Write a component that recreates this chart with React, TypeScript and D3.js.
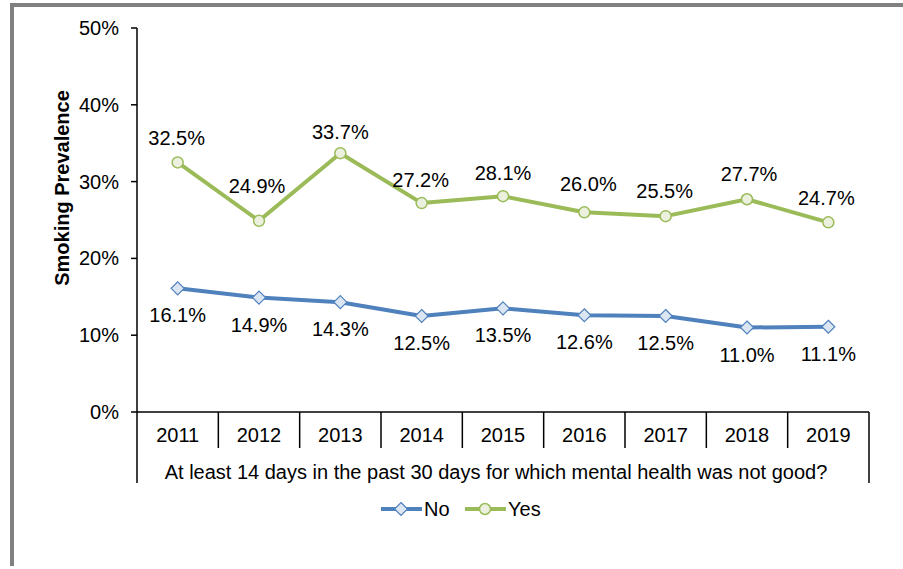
import React from "react";
import * as d3 from "d3";

const years = ["2011", "2012", "2013", "2014", "2015", "2016", "2017", "2018", "2019"];
const noValues = [16.1, 14.9, 14.3, 12.5, 13.5, 12.6, 12.5, 11.0, 11.1];
const yesValues = [32.5, 24.9, 33.7, 27.2, 28.1, 26.0, 25.5, 27.7, 24.7];
const yTicks = [0, 10, 20, 30, 40, 50];
const seriesNames = ["No", "Yes"];

// label placement (layout, not data)
const yesLabelDy = [-24, -35, -21, -23, -23, -28, -25, -25, -24];
const yesLabelDx = [-1, -2, 0, -1, 0, 4, -1, 2, -2];
const noLabelDy = 27;

const W = 903;
const H = 569;
const left = 137;
const right = 869;
const top = 28;
const bottom = 412;
const FONT = "'Liberation Sans', Arial, sans-serif";
const FS = 20;
const BLUE = "#4F81BD";
const GREEN = "#9BBB59";

export default function App() {
  const x = d3.scaleBand<string>().domain(years).range([left, right]).padding(0);
  const y = d3.scaleLinear().domain([0, 50]).range([bottom, top]);
  const cx = (d: string) => (x(d) as number) + x.bandwidth() / 2;
  const line = d3
    .line<number>()
    .x((_, i) => cx(years[i]))
    .y((v) => y(v));

  const diamond = (px: number, py: number, r: number) =>
    `M${px},${py - r}L${px + r},${py}L${px},${py + r}L${px - r},${py}Z`;

  return (
    <svg
      width={W}
      height={H}
      style={{ position: "absolute", left: 0, top: 0, display: "block" }}
      fontFamily={FONT}
    >
      <rect x={0} y={0} width={W} height={H} fill="#fff" />
      {/* frame */}
      <line x1={10} y1={5} x2={W} y2={5} stroke="#808080" strokeWidth={4} />
      <line x1={12} y1={3} x2={12} y2={566} stroke="#808080" strokeWidth={4} />

      {/* y axis */}
      <line x1={left} y1={top} x2={left} y2={bottom} stroke="#000" strokeWidth={1.5} />
      {yTicks.map((t) => (
        <g key={t}>
          <line x1={left - 6} x2={left} y1={y(t)} y2={y(t)} stroke="#000" strokeWidth={1.5} />
          <text x={left - 18} y={y(t)} dy="0.35em" textAnchor="end" fontSize={FS} fill="#000">
            {t}%
          </text>
        </g>
      ))}
      <text
        transform={`translate(69,188) rotate(-90)`}
        textAnchor="middle"
        fontSize={FS}
        fontWeight="bold"
        fill="#000"
      >
        Smoking Prevalence
      </text>

      {/* x axis */}
      <line x1={left} x2={right} y1={bottom} y2={bottom} stroke="#000" strokeWidth={1.5} />
      {years.map((yr, i) => (
        <g key={yr}>
          {i > 0 && (
            <line
              x1={x(yr) as number}
              x2={x(yr) as number}
              y1={bottom}
              y2={448}
              stroke="#000"
              strokeWidth={1.5}
            />
          )}
          <text x={cx(yr)} y={435} dy="0.35em" textAnchor="middle" fontSize={FS} fill="#000">
            {yr}
          </text>
        </g>
      ))}
      <line x1={left} x2={left} y1={bottom} y2={483} stroke="#000" strokeWidth={1.5} />
      <line x1={right} x2={right} y1={bottom} y2={483} stroke="#000" strokeWidth={1.5} />
      <text x={(left + right) / 2 - 7} y={472} dy="0.35em" textAnchor="middle" fontSize={FS} fill="#000">
        At least 14 days in the past 30 days for which mental health was not good?
      </text>

      {/* lines */}
      <path d={line(noValues) || ""} fill="none" stroke={BLUE} strokeWidth={4} strokeLinejoin="round" />
      <path d={line(yesValues) || ""} fill="none" stroke={GREEN} strokeWidth={4} strokeLinejoin="round" />
      {noValues.map((v, i) => (
        <g key={"n" + i}>
          <path d={diamond(cx(years[i]), y(v), 6.5)} fill="#DCE6F2" stroke={BLUE} strokeWidth={1.2} />
          <text x={cx(years[i])} y={y(v) + noLabelDy} dy="0.35em" textAnchor="middle" fontSize={FS} fill="#000">
            {v.toFixed(1)}%
          </text>
        </g>
      ))}
      {yesValues.map((v, i) => (
        <g key={"y" + i}>
          <circle cx={cx(years[i])} cy={y(v)} r={5.5} fill="#EBF1DE" stroke={GREEN} strokeWidth={1.5} />
          <text
            x={cx(years[i]) + yesLabelDx[i]}
            y={y(v) + yesLabelDy[i]}
            dy="0.35em"
            textAnchor="middle"
            fontSize={FS}
            fill="#000"
          >
            {v.toFixed(1)}%
          </text>
        </g>
      ))}

      {/* legend */}
      <g>
        <line x1={381} x2={422} y1={509} y2={509} stroke={BLUE} strokeWidth={4} />
        <path d={diamond(401, 509, 6.5)} fill="#DCE6F2" stroke={BLUE} strokeWidth={1.2} />
        <text x={424} y={509} dy="0.35em" fontSize={FS} fill="#000">
          {seriesNames[0]}
        </text>
        <line x1={465} x2={506} y1={509} y2={509} stroke={GREEN} strokeWidth={4} />
        <circle cx={485} cy={509} r={5.5} fill="#EBF1DE" stroke={GREEN} strokeWidth={1.5} />
        <text x={508} y={509} dy="0.35em" fontSize={FS} fill="#000">
          {seriesNames[1]}
        </text>
      </g>
    </svg>
  );
}
